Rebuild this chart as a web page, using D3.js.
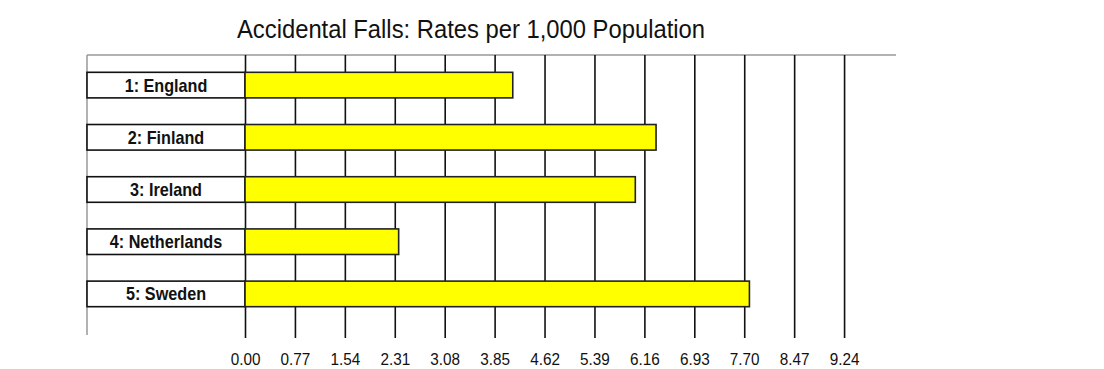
<!DOCTYPE html>
<html>
<head>
<meta charset="utf-8">
<script src="https://cdn.jsdelivr.net/npm/d3@7"></script>
<style>
  html, body { margin: 0; padding: 0; background: #fff; }
  svg { display: block; }
  text { font-family: "Liberation Sans Narrow", "Arial Narrow", "Liberation Sans", Arial, sans-serif; }
</style>
</head>
<body>
<svg id="chart" width="1104" height="369"></svg>
<script>
// Rates of accidental falls per 1,000 population
const countries = ["1: England", "2: Finland", "3: Ireland", "4: Netherlands", "5: Sweden"];
const rates = [4.13, 6.34, 6.02, 2.37, 7.78];
const tickValues = [0, 0.77, 1.54, 2.31, 3.08, 3.85, 4.62, 5.39, 6.16, 6.93, 7.70, 8.47, 9.24];
const titleText = "Accidental Falls: Rates per 1,000 Population";

const svg = d3.select("#chart");

const x = d3.scaleLinear().domain([0, 10.01]).range([245, 894]);
const y = d3.scaleBand().domain(countries).range([59, 320])
  .paddingInner(0.51).paddingOuter(0.255);

const labelLeft = 87;
const gridTop = 55, gridBottom = 338;

// frame: grey top rule and grey left rule
svg.append("line")
  .attr("x1", labelLeft).attr("x2", x.range()[1] + 2)
  .attr("y1", gridTop).attr("y2", gridTop)
  .attr("stroke", "#999").attr("stroke-width", 1.5);
svg.append("line")
  .attr("x1", labelLeft).attr("x2", labelLeft)
  .attr("y1", gridTop).attr("y2", 335)
  .attr("stroke", "#999").attr("stroke-width", 1.5);

// vertical grid lines with tick labels below
const axis = d3.axisBottom(x)
  .tickValues(tickValues)
  .tickFormat(d3.format(".2f"))
  .tickSize(-(gridBottom - gridTop))
  .tickPadding(12);

const gAxis = svg.append("g")
  .attr("transform", `translate(0,${gridBottom})`)
  .call(axis);
gAxis.select(".domain").remove();
gAxis.selectAll(".tick line")
  .attr("stroke", "#111").attr("stroke-width", 1.6);
gAxis.selectAll(".tick text")
  .attr("fill", "#111")
  .attr("font-size", 17)
  .attr("y", 27)
  .attr("dy", 0)
  .attr("transform", "scale(0.9,1)")
  .style("font-family", '"Liberation Sans", Arial, sans-serif');

// category label boxes
const rows = svg.append("g");
rows.selectAll("rect.label")
  .data(countries)
  .join("rect")
  .attr("class", "label")
  .attr("x", labelLeft)
  .attr("y", d => y(d))
  .attr("width", x(0) - labelLeft)
  .attr("height", y.bandwidth())
  .attr("fill", "#fff")
  .attr("stroke", "#111")
  .attr("stroke-width", 1.6);

const labelCx = (labelLeft + x(0)) / 2;
rows.selectAll("text.label")
  .data(countries)
  .join("text")
  .attr("class", "label")
  .attr("transform", d => `translate(${labelCx},${y(d) + y.bandwidth() / 2 + 6.5}) scale(0.9,1)`)
  .attr("text-anchor", "middle")
  .attr("font-size", 18)
  .attr("font-weight", "bold")
  .attr("fill", "#111")
  .text(d => d);

// bars
svg.append("g").selectAll("rect")
  .data(rates)
  .join("rect")
  .attr("x", x(0))
  .attr("y", (d, i) => y(countries[i]))
  .attr("width", d => x(d) - x(0))
  .attr("height", y.bandwidth())
  .attr("fill", "#ffff00")
  .attr("stroke", "#222")
  .attr("stroke-width", 1.6);

// title
svg.append("text")
  .attr("x", 471)
  .attr("y", 38)
  .attr("text-anchor", "middle")
  .attr("font-size", 26)
  .attr("textLength", 468)
  .attr("lengthAdjust", "spacingAndGlyphs")
  .attr("fill", "#111")
  .text(titleText);
</script>
</body>
</html>
